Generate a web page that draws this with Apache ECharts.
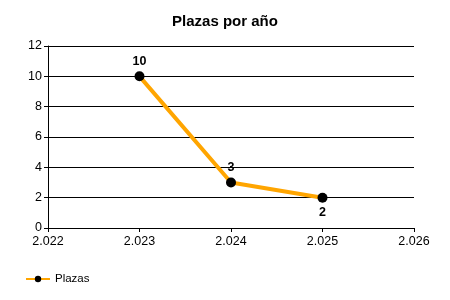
<!DOCTYPE html>
<html><head><meta charset="utf-8">
<script src="https://cdn.jsdelivr.net/npm/echarts@6/dist/echarts.min.js"></script>
<style>html,body{margin:0;padding:0;background:#fff}#c{width:450px;height:300px}</style>
</head><body><div id="c"></div>
<script>
const years = [2023, 2024, 2025];
const plazas = [10, 3, 2];
const labelPos = ['top', 'top', 'bottom'];
const seriesName = 'Plazas';
const titleText = 'Plazas por año';

const chart = echarts.init(document.getElementById('c'), null, {renderer: 'canvas'});
const font = 'Liberation Sans, Arial, sans-serif';
chart.setOption({
  animation: false,
  title: {text: titleText, left: 'center', top: 9,
    textStyle: {fontFamily: font, fontSize: 15, fontWeight: 'bold', color: '#000'}},
  grid: {left: 48, right: 36, top: 46, bottom: 72},
  xAxis: {type: 'value', min: 2022, max: 2026, interval: 1,
    axisLine: {lineStyle: {color: '#000', width: 1}},
    axisTick: {show: true, length: 4, lineStyle: {color: '#000'}},
    splitLine: {show: false},
    axisLabel: {fontFamily: font, fontSize: 12.5, color: '#000', margin: 7,
      formatter: v => { const s = String(v); return s.slice(0, s.length-3) + '.' + s.slice(-3); }}},
  yAxis: {type: 'value', min: 0, max: 12, interval: 2,
    axisLine: {show: true, lineStyle: {color: '#000', width: 1}},
    axisTick: {show: true, length: 4, lineStyle: {color: '#000'}},
    splitLine: {show: true, lineStyle: {color: '#000', width: 1}},
    axisLabel: {fontFamily: font, fontSize: 12.5, color: '#000', margin: 6}},
  legend: {left: 20, bottom: 10, itemWidth: 24, itemHeight: 8, itemGap: 4,
    textStyle: {fontFamily: font, fontSize: 11.5, color: '#000'},
    data: [seriesName]},
  series: [{
    name: seriesName, type: 'line',
    data: years.map((y, i) => ({value: [y, plazas[i]], label: {position: labelPos[i]}})),
    lineStyle: {color: '#FFA500', width: 4},
    itemStyle: {color: '#000'},
    color: '#FFA500',
    symbol: 'circle', symbolSize: 10,
    label: {show: true, fontFamily: font, fontSize: 12.5, fontWeight: 'bold', color: '#000', distance: 3}
  }]
});
</script></body></html>
